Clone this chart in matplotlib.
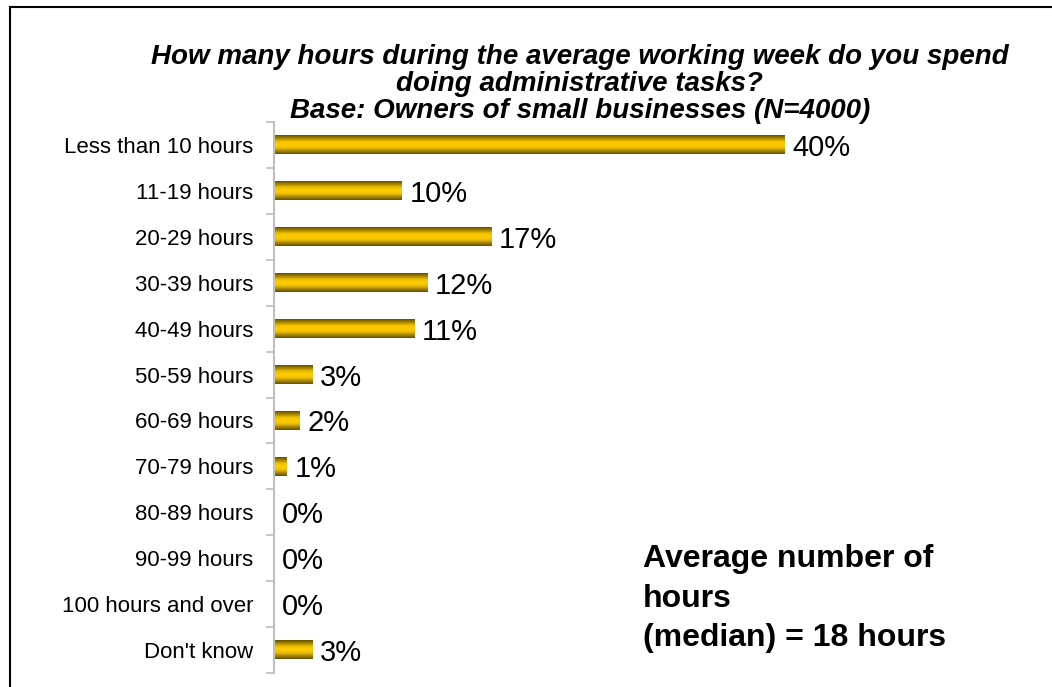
import numpy as np
import matplotlib.pyplot as plt
from matplotlib.colors import LinearSegmentedColormap
from matplotlib.patches import Rectangle

plt.rcParams['font.family'] = ['Liberation Sans', 'DejaVu Sans']

# Survey answers
categories = ['Less than 10 hours', '11-19 hours', '20-29 hours', '30-39 hours',
              '40-49 hours', '50-59 hours', '60-69 hours', '70-79 hours',
              '80-89 hours', '90-99 hours', '100 hours and over', "Don't know"]
shares = [40, 10, 17, 12, 11, 3, 2, 1, 0, 0, 0, 3]

title_lines = ['How many hours during the average working week do you spend',
               'doing administrative tasks?',
               'Base: Owners of small businesses (N=4000)']
note_lines = ['Average number of', 'hours', '(median) = 18 hours']

W, H = 1052, 687
fig = plt.figure(figsize=(W / 100, H / 100), dpi=100)

# outer frame (only left and top edges fall inside the image)
fig.add_artist(Rectangle((10 / W, -0.05), 1.1, 1 - 7 / H + 0.05,
                         transform=fig.transFigure, fill=False,
                         edgecolor='black', linewidth=1.5))

ax = fig.add_axes([274 / W, 1 - 673 / H, (1040 - 274) / W, (673 - 122) / H])

# golden cylinder shading across each bar's thickness
gold = LinearSegmentedColormap.from_list(
    'gold', ['#665000', '#a88700', '#f0c000', '#ffcc00', '#f0c000', '#a88700', '#665000'])
shade = np.linspace(0, 1, 64).reshape(-1, 1)

ypos = np.arange(len(categories))
bar_h = 0.4
for y, v in zip(ypos, shares):
    if v > 0:
        ax.imshow(shade, cmap=gold, aspect='auto', interpolation='bilinear',
                  extent=(0, v, y + bar_h / 2, y - bar_h / 2), zorder=2)
    ax.text(v + 0.6, y, f'{v}%', va='center_baseline', ha='left', fontsize=21)

ax.set_xlim(0, 60)
ax.set_ylim(len(categories) - 0.5, -0.5)

ax.set_yticks(ypos)
ax.set_yticklabels(categories, fontsize=16)
ax.set_yticks(np.arange(-0.5, len(categories), 1), minor=True)
ax.tick_params(axis='y', which='major', length=0, pad=15)
ax.tick_params(axis='y', which='minor', length=6, color='#bfbfbf', width=1.2, direction='out')
ax.set_xticks([])
for side in ('top', 'right', 'bottom'):
    ax.spines[side].set_visible(False)
ax.spines['left'].set_color('#bfbfbf')
ax.spines['left'].set_linewidth(1.5)

for line, base in zip(title_lines, [64, 91, 118]):
    fig.text(580 / W, 1 - base / H, line, ha='center', va='baseline',
             fontsize=20, fontweight='bold', fontstyle='italic')

for line, base in zip(note_lines, [567, 607, 646]):
    fig.text(643 / W, 1 - base / H, line, ha='left', va='baseline',
             fontsize=23, fontweight='bold')

fig.savefig('out.png', dpi=100)
